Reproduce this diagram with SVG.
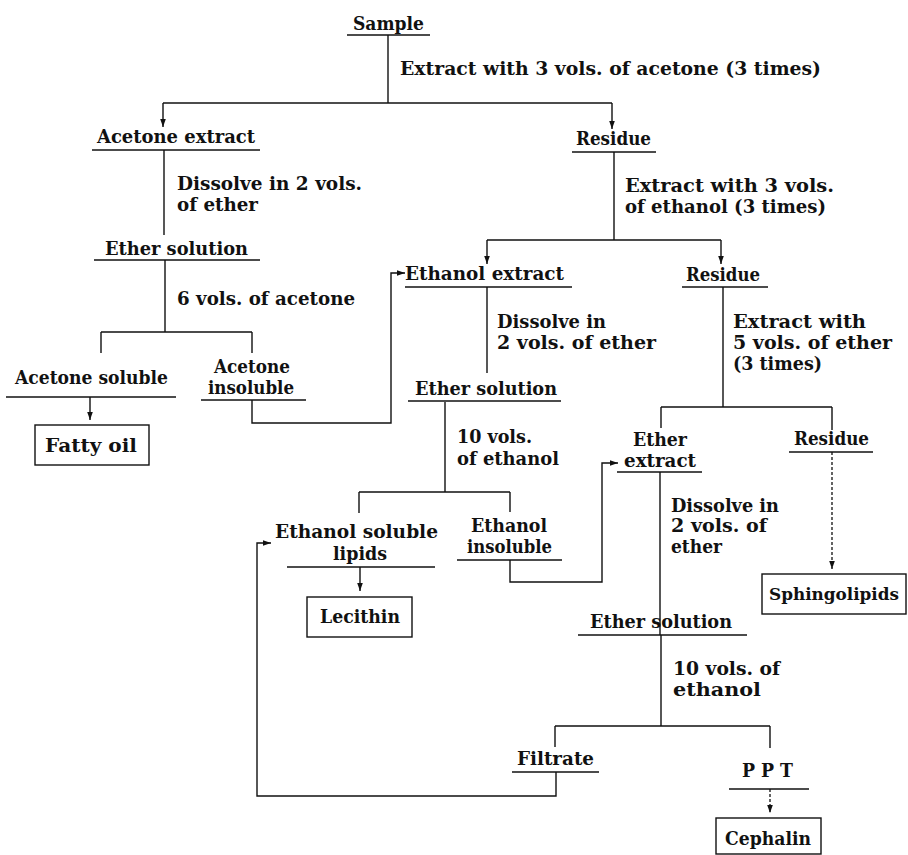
<svg xmlns="http://www.w3.org/2000/svg" width="908" height="855" viewBox="0 0 908 855">
<style>
text{font-family:"DejaVu Serif","Liberation Serif",serif;font-weight:bold;font-size:18.5px;fill:#111}
.u,.c{stroke:#111;stroke-width:1.4;fill:none}
.d{stroke:#111;stroke-width:1.3;fill:none;stroke-dasharray:3 2}
.box{stroke:#111;stroke-width:1.4;fill:none}
</style>
<defs>
<marker id="ah" viewBox="0 0 10 10" refX="10" refY="5" markerWidth="8" markerHeight="8" orient="auto" markerUnits="userSpaceOnUse">
<path d="M0,1.5 L10,5 L0,8.5 z" fill="#111"/>
</marker>
</defs>
<rect width="908" height="855" fill="#fff"/>
<g id="connectors">
<path class="c" d="M388,35 V103"/>
<path class="c" d="M163,103 H612"/>
<path class="c" d="M163,103 V127" marker-end="url(#ah)"/>
<path class="c" d="M612,103 V129" marker-end="url(#ah)"/>
<path class="c" d="M164,150 V235"/>
<path class="c" d="M165,260 V332 M101,332 H252 M101,332 V353 M252,332 V353"/>
<path class="c" d="M90,397 V420" marker-end="url(#ah)"/>
<path class="c" d="M252,400 V423 H391 V273 H405" marker-end="url(#ah)"/>
<path class="c" d="M614,152 V240 M487,240 H721"/>
<path class="c" d="M487,240 V264" marker-end="url(#ah)"/>
<path class="c" d="M721,240 V264" marker-end="url(#ah)"/>
<path class="c" d="M487,287 V373"/>
<path class="c" d="M723,287 V407 M661,407 H832 M661,407 V428 M832,407 V430"/>
<path class="c" d="M445,402 V492 M359,492 H510 M359,492 V513 M510,492 V512"/>
<path class="c" d="M510,560 V582 H602 V463 H618" marker-end="url(#ah)"/>
<path class="d" d="M832,452 V569" marker-end="url(#ah)"/>
<path class="c" d="M360,567 V591" marker-end="url(#ah)"/>
<path class="c" d="M660,472 V635"/>
<path class="c" d="M661,635 V726 M555,726 H770 M555,726 V747 M770,726 V748"/>
<path class="c" d="M556,772 V796 H257 V543 H271" marker-end="url(#ah)"/>
<path class="d" d="M770,789 V813" marker-end="url(#ah)"/>
</g>
<g id="sample"><text x="353" y="30" textLength="71" lengthAdjust="spacingAndGlyphs">Sample</text><line class="u" x1="347" y1="35" x2="430" y2="35"/></g>
<g id="label-acetone-extraction"><text x="400" y="75" textLength="421" lengthAdjust="spacingAndGlyphs">Extract with 3 vols. of acetone (3 times)</text></g>
<g id="acetone-extract"><text x="97" y="143" textLength="158" lengthAdjust="spacingAndGlyphs">Acetone extract</text><line class="u" x1="92" y1="150" x2="260" y2="150"/></g>
<g id="residue-1"><text x="576" y="145" textLength="75" lengthAdjust="spacingAndGlyphs">Residue</text><line class="u" x1="572" y1="152" x2="656" y2="152"/></g>
<g id="label-dissolve-1"><text x="177" y="190" textLength="185" lengthAdjust="spacingAndGlyphs">Dissolve in 2 vols.</text><text x="177" y="211" textLength="81" lengthAdjust="spacingAndGlyphs">of ether</text></g>
<g id="label-ethanol-extraction"><text x="625" y="192" textLength="209" lengthAdjust="spacingAndGlyphs">Extract with 3 vols.</text><text x="625" y="213" textLength="201" lengthAdjust="spacingAndGlyphs">of ethanol (3 times)</text></g>
<g id="ether-solution-1"><text x="105" y="255" textLength="143" lengthAdjust="spacingAndGlyphs">Ether solution</text><line class="u" x1="94" y1="260" x2="260" y2="260"/></g>
<g id="ethanol-extract"><text x="405" y="280" textLength="159" lengthAdjust="spacingAndGlyphs">Ethanol extract</text><line class="u" x1="405" y1="287" x2="572" y2="287"/></g>
<g id="residue-2"><text x="686" y="281" textLength="74" lengthAdjust="spacingAndGlyphs">Residue</text><line class="u" x1="682" y1="287" x2="768" y2="287"/></g>
<g id="label-acetone-6"><text x="177" y="305" textLength="178" lengthAdjust="spacingAndGlyphs">6 vols. of acetone</text></g>
<g id="label-dissolve-2"><text x="497" y="328" textLength="109" lengthAdjust="spacingAndGlyphs">Dissolve in</text><text x="497" y="349" textLength="159" lengthAdjust="spacingAndGlyphs">2 vols. of ether</text></g>
<g id="label-ether-extraction"><text x="733" y="328" textLength="133" lengthAdjust="spacingAndGlyphs">Extract with</text><text x="733" y="349" textLength="159" lengthAdjust="spacingAndGlyphs">5 vols. of ether</text><text x="733" y="370" textLength="89" lengthAdjust="spacingAndGlyphs">(3 times)</text></g>
<g id="acetone-soluble"><text x="15" y="384" textLength="153" lengthAdjust="spacingAndGlyphs">Acetone soluble</text><line class="u" x1="6" y1="397" x2="176" y2="397"/></g>
<g id="acetone-insoluble"><text x="214" y="373" textLength="76" lengthAdjust="spacingAndGlyphs">Acetone</text><text x="208" y="394" textLength="86" lengthAdjust="spacingAndGlyphs">insoluble</text><line class="u" x1="201" y1="400" x2="306" y2="400"/></g>
<g id="ether-solution-2"><text x="415" y="395" textLength="142" lengthAdjust="spacingAndGlyphs">Ether solution</text><line class="u" x1="408" y1="401" x2="561" y2="401"/></g>
<g id="label-ethanol-10a"><text x="457" y="443" textLength="75" lengthAdjust="spacingAndGlyphs">10 vols.</text><text x="457" y="465" textLength="102" lengthAdjust="spacingAndGlyphs">of ethanol</text></g>
<g id="ether-extract"><text x="633" y="446" textLength="54" lengthAdjust="spacingAndGlyphs">Ether</text><text x="624" y="467" textLength="72" lengthAdjust="spacingAndGlyphs">extract</text><line class="u" x1="617" y1="472" x2="702" y2="472"/></g>
<g id="residue-3"><text x="794" y="445" textLength="75" lengthAdjust="spacingAndGlyphs">Residue</text><line class="u" x1="789" y1="452" x2="873" y2="452"/></g>
<g id="fatty-oil"><rect class="box" x="35" y="425" width="114" height="40"/><text x="45" y="452" textLength="92" lengthAdjust="spacingAndGlyphs">Fatty oil</text></g>
<g id="label-dissolve-3"><text x="671" y="512" textLength="108" lengthAdjust="spacingAndGlyphs">Dissolve in</text><text x="671" y="532" textLength="96" lengthAdjust="spacingAndGlyphs">2 vols. of</text><text x="671" y="553" textLength="51" lengthAdjust="spacingAndGlyphs">ether</text></g>
<g id="ethanol-soluble-lipids"><text x="275" y="538" textLength="163" lengthAdjust="spacingAndGlyphs">Ethanol  soluble</text><text x="333" y="560" textLength="54" lengthAdjust="spacingAndGlyphs">lipids</text><line class="u" x1="287" y1="567" x2="435" y2="567"/></g>
<g id="ethanol-insoluble"><text x="471" y="532" textLength="76" lengthAdjust="spacingAndGlyphs">Ethanol</text><text x="467" y="553" textLength="85" lengthAdjust="spacingAndGlyphs">insoluble</text><line class="u" x1="457" y1="560" x2="562" y2="560"/></g>
<g id="sphingolipids"><rect class="box" x="762" y="574" width="144" height="40"/><text x="769" y="600" style="font-size:17px" textLength="130" lengthAdjust="spacingAndGlyphs">Sphingolipids</text></g>
<g id="lecithin"><rect class="box" x="307" y="597" width="105" height="40"/><text x="320" y="623" textLength="80" lengthAdjust="spacingAndGlyphs">Lecithin</text></g>
<g id="ether-solution-3"><text x="590" y="628" textLength="142" lengthAdjust="spacingAndGlyphs">Ether  solution</text><line class="u" x1="578" y1="635" x2="747" y2="635"/></g>
<g id="label-ethanol-10b"><text x="673" y="675" textLength="107" lengthAdjust="spacingAndGlyphs">10 vols. of</text><text x="673" y="696" textLength="88" lengthAdjust="spacingAndGlyphs">ethanol</text></g>
<g id="filtrate"><text x="517" y="765" textLength="77" lengthAdjust="spacingAndGlyphs">Filtrate</text><line class="u" x1="512" y1="772" x2="599" y2="772"/></g>
<g id="ppt"><text x="742" y="777" textLength="51" lengthAdjust="spacingAndGlyphs">P P T</text><line class="u" x1="729" y1="789" x2="809" y2="789"/></g>
<g id="cephalin"><rect class="box" x="716" y="818" width="105" height="36"/><text x="725" y="845" textLength="86" lengthAdjust="spacingAndGlyphs">Cephalin</text></g>
</svg>
